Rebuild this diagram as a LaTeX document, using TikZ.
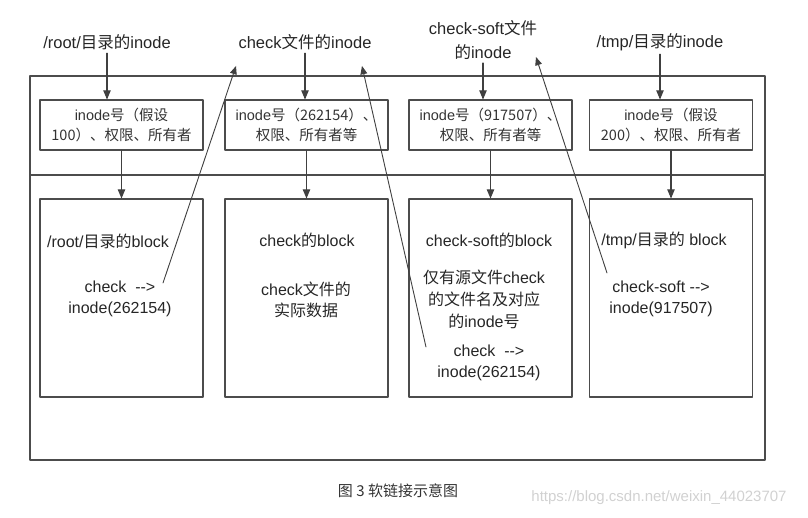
\documentclass[tikz,border=0pt]{standalone}
\usepackage{fontspec}
\setmainfont{Liberation Sans}
\newfontfamily\cjk{Noto Sans CJK SC}
\newcommand{\zh}[1]{{\cjk #1}}
\usetikzlibrary{arrows}

\begin{document}
\begin{tikzpicture}[x=1pt,y=-1pt,line cap=round,line join=round,>=triangle 45,
  lbl/.style={font=\fontsize{16.5}{24}\selectfont,text=black!85,align=center},
  box/.style={draw=black!70,line width=1.1pt,inner sep=0pt,minimum width=163pt},
  inodebox/.style={box,minimum height=50pt,font=\fontsize{14.5}{20}\selectfont,text=black!80,align=center},
  blockbox/.style={box,minimum height=198pt},
  txt/.style={font=\fontsize{16}{21}\selectfont,text=black!85,align=center},
  lnk/.style={->,draw=black!75,line width=1.1pt}]
\useasboundingbox (0,0) rectangle (808,518);
% frame of the file system
\draw[black!70,line width=1.1pt] (30,76) rectangle (765,460);
\draw[black!70,line width=1.1pt] (30,175) -- (765,175);
% titles
\node[lbl] (t1) at (107,42) {/root/\zh{目录的}inode};
\node[lbl] (t2) at (305,42) {check\zh{文件的}inode};
\node[lbl] (t3) at (483,40) {check-soft\zh{文件}\\\zh{的}inode};
\node[lbl] (t4) at (660,42) {/tmp/\zh{目录的}inode};
% inode area
\node[inodebox] (in1) at (121.5,125) {inode\zh{号（假设}\\\zh{100）、权限、所有者}};
\node[inodebox] (in2) at (306.5,125) {inode\zh{号（262154）、}\\\zh{权限、所有者等}};
\node[inodebox] (in3) at (490.5,125) {inode\zh{号（917507）、}\\\zh{权限、所有者等}};
\node[inodebox] (in4) at (671,125) {inode\zh{号（假设}\\\zh{200）、权限、所有者}};
% block area
\node[blockbox] (bk1) at (121.5,298) {};
\node[blockbox] (bk2) at (306.5,298) {};
\node[blockbox] (bk3) at (490.5,298) {};
\node[blockbox] (bk4) at (671,298) {};
\node[txt] (h1) at (108,241) {/root/\zh{目录的}block};
\node[txt] (h2) at (307,240) {check\zh{的}block};
\node[txt] (h3) at (489,240) {check-soft\zh{的}block};
\node[txt] (h4) at (664,240) {/tmp/\zh{目录的} block};
\node[txt] (c1) at (120,299) {check \ -{}->\\inode(262154)};
\node[txt] (d2) at (306,300) {check\zh{文件的}\\\zh{实际数据}};
\node[txt,font=\fontsize{16}{22}\selectfont] (d3) at (484,299) {\zh{仅有源文件}check\\\zh{的文件名及对应}\\\zh{的}inode\zh{号}};
\node[txt] (c3) at (489,363) {check \ -{}->\\inode(262154)};
\node[txt] (c4) at (661,299) {check-soft -{}->\\inode(917507)};
% down arrows
\draw[lnk] (t1) -- (t1 |- in1.north);
\draw[lnk] (t2) -- (t2 |- in2.north);
\draw[lnk] (t3) -- (t3 |- in3.north);
\draw[lnk] (t4) -- (t4 |- in4.north);
\draw[lnk] (in1) -- (bk1);
\draw[lnk] (in2) -- (bk2);
\draw[lnk] (in3) -- (bk3);
\draw[lnk] (in4) -- (bk4);
% soft and hard links back to inodes
\coordinate (s1) at (163,283);
\coordinate (q1) at (236,66);
\coordinate (s2) at (426,347);
\coordinate (q2) at (362,66);
\coordinate (s3) at (607,273);
\coordinate (q3) at (536,57);
\draw[lnk,line width=0.9pt] (s1) -- (q1);
\draw[lnk,line width=0.9pt] (s2) -- (q2);
\draw[lnk,line width=0.9pt] (s3) -- (q3);
% caption
\node[font=\fontsize{15}{18}\selectfont,text=black!80] (cap) at (398,491) {\zh{图 3 软链接示意图}};
\node[font=\fontsize{15}{18}\selectfont,text=black!18] (wm) at (659,498) {https://blog.csdn.net/weixin\_44023707};
\end{tikzpicture}
\end{document}
